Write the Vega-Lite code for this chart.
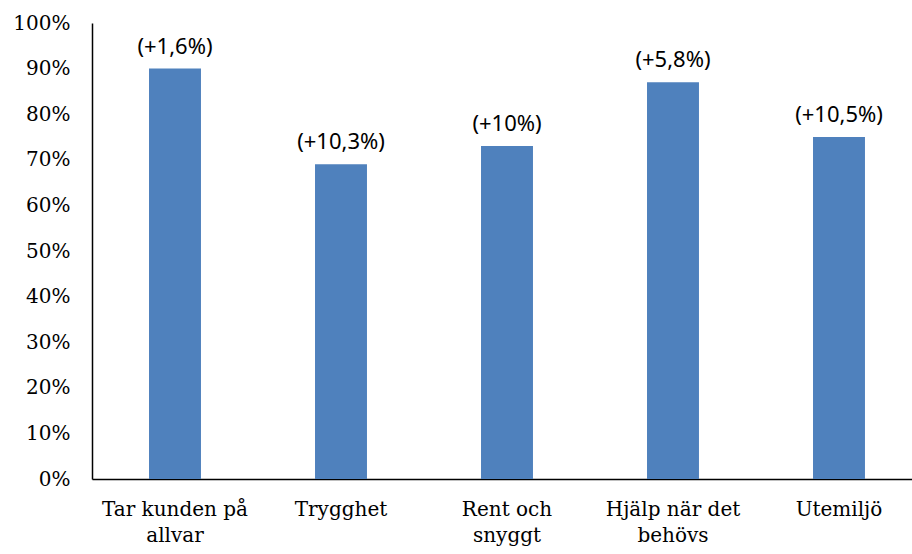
{
  "$schema": "https://vega.github.io/schema/vega-lite/v6.json",
  "width": 820,
  "height": 456,
  "padding": {"left": 92, "top": 23, "right": 0, "bottom": 75},
  "autosize": {"type": "none"},
  "background": "white",
  "config": {"view": {"stroke": null}},
  "data": {
    "values": [
      {"kategori": "Tar kunden på allvar", "andel": 0.90, "forandring": "(+1,6%)"},
      {"kategori": "Trygghet", "andel": 0.69, "forandring": "(+10,3%)"},
      {"kategori": "Rent och snyggt", "andel": 0.73, "forandring": "(+10%)"},
      {"kategori": "Hjälp när det behövs", "andel": 0.87, "forandring": "(+5,8%)"},
      {"kategori": "Utemiljö", "andel": 0.75, "forandring": "(+10,5%)"}
    ]
  },
  "encoding": {
    "x": {
      "field": "kategori",
      "type": "nominal",
      "sort": null,
      "scale": {"paddingInner": 0.687, "paddingOuter": 0.3134, "align": 0.548},
      "axis": {
        "title": null,
        "labelAngle": 0,
        "ticks": false,
        "domainColor": "black",
        "domainWidth": 1.5,
        "labelFont": "DejaVu Serif",
        "labelFontSize": 20,
        "labelColor": "black",
        "labelPadding": 20,
        "labelLineHeight": 26,
        "labelExpr": "datum.label == 'Tar kunden på allvar' ? ['Tar kunden på', 'allvar'] : datum.label == 'Rent och snyggt' ? ['Rent och', 'snyggt'] : datum.label == 'Hjälp när det behövs' ? ['Hjälp när det', 'behövs'] : datum.label"
      }
    },
    "y": {
      "field": "andel",
      "type": "quantitative",
      "scale": {"domain": [0, 1], "nice": false},
      "axis": {
        "title": null,
        "format": ".0%",
        "values": [0, 0.1, 0.2, 0.3, 0.4, 0.5, 0.6, 0.7, 0.8, 0.9, 1],
        "grid": false,
        "ticks": false,
        "domainColor": "black",
        "domainWidth": 1.5,
        "labelFont": "DejaVu Serif",
        "labelFontSize": 20,
        "labelColor": "black",
        "labelPadding": 22
      }
    }
  },
  "layer": [
    {"mark": {"type": "bar", "color": "#4f81bd"}},
    {
      "mark": {"type": "text", "baseline": "bottom", "dy": -10, "font": "Noto Sans", "fontSize": 22, "color": "black"},
      "encoding": {"text": {"field": "forandring"}}
    }
  ]
}
